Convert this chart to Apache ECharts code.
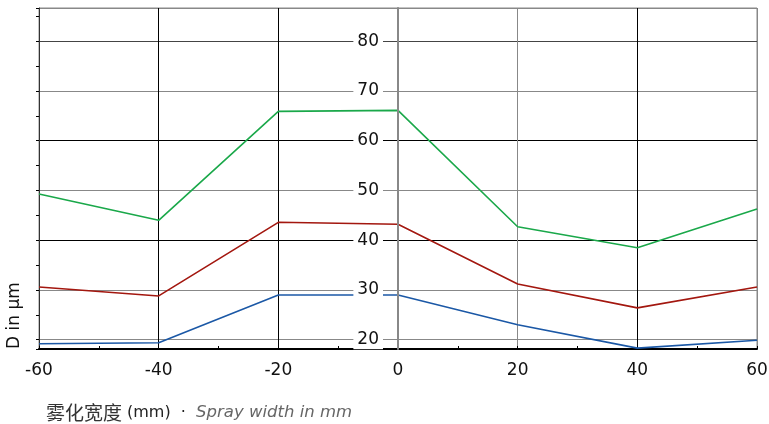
<!DOCTYPE html>
<html>
<head>
<meta charset="utf-8">
<script src="https://cdn.jsdelivr.net/npm/echarts@6/dist/echarts.min.js"></script>
<style>html,body{margin:0;padding:0;background:#fff}#c{width:769px;height:424px}</style>
</head>
<body>
<div id="c"></div>
<script>
// ---- data ----
const xPositions = [-60, -40, -20, 0, 20, 40, 60];       // spray width in mm
const seriesNames = ['D90', 'D50', 'D10'];
const greenValues = [49.3, 44.0, 65.9, 66.1, 42.7, 38.5, 46.3];
const redValues   = [30.6, 28.8, 43.6, 43.2, 31.2, 26.4, 30.6];
const blueValues  = [19.2, 19.4, 29.0, 29.0, 23.0, 18.3, 19.9];
const xAxisTitleCn = '雾化宽度';
const xAxisTitleUnit = '(mm)';
const xAxisTitleEn = 'Spray width in mm';
const yAxisTitle = 'D in µm';
const yMin = 18.13, yMax = 86.69;
const xMin = -60, xMax = 60, xInterval = 20;

const pairs = v => xPositions.map((x, i) => [x, v[i]]);
const FONT = 'DejaVu Sans';
const GRID_LEFT = 39, GRID_RIGHT = 12;
const plotWidth = 769 - GRID_LEFT - GRID_RIGHT;
// centre axis sits where x = 0
const centreOffset = -plotWidth * (0 - xMin) / (xMax - xMin);

const chart = echarts.init(document.getElementById('c'), null, {renderer: 'canvas'});
chart.setOption({
  animation: false,
  backgroundColor: '#fff',
  grid: {left: GRID_LEFT, right: GRID_RIGHT, top: 8, bottom: 75, show: true, borderColor: '#888', borderWidth: 1, outerBoundsMode: 'none'},
  title: {
    left: 41, top: 398,
    text: '{cn|' + xAxisTitleCn + '} {mm|' + xAxisTitleUnit + '}{dot|  ·  }{en|' + xAxisTitleEn + '}',
    textStyle: {
      fontWeight: 'normal',
      rich: {
        cn: {fontFamily: 'Noto Sans CJK SC', fontSize: 19, color: '#333', fontWeight: 'normal'},
        mm: {fontFamily: FONT, fontSize: 16, color: '#222', fontWeight: 'normal'},
        dot: {fontFamily: FONT, fontSize: 16, color: '#222', fontWeight: 'normal'},
        en: {fontFamily: FONT, fontSize: 16.5, color: '#666', fontStyle: 'italic', fontWeight: 'normal'}
      }
    }
  },
  graphic: [{
    type: 'text', x: 23, y: 349, rotation: Math.PI / 2, z: 100,
    style: {text: yAxisTitle, font: '17px "DejaVu Sans"', fill: '#111', align: 'left', verticalAlign: 'bottom'}
  }],
  xAxis: {
    type: 'value', min: xMin, max: xMax, interval: xInterval,
    axisLine: {onZero: false, lineStyle: {color: '#000', width: 2}},
    axisTick: {show: true, inside: true, length: 3, lineStyle: {color: '#000'}},
    minorTick: {show: true, splitNumber: 2, length: 3, lineStyle: {color: '#000'}},
    axisLabel: {fontFamily: FONT, fontSize: 17, color: '#111', margin: 13},
    splitLine: {show: true, lineStyle: {color: ['#888', '#000', '#000', '#888', '#888', '#000', '#888'], width: 1}}
  },
  yAxis: [{
    type: 'value', min: yMin, max: yMax, splitNumber: 7, z: 10, position: 'left', offset: centreOffset,
    axisLine: {show: true, onZero: false, lineStyle: {color: '#888', width: 2}},
    axisTick: {show: false},
    splitLine: {show: false},
    axisLabel: {
      fontFamily: FONT, fontSize: 17, color: '#111', margin: 15,
      backgroundColor: '#fff', padding: [1, 4, 1, 4],
      showMinLabel: false, showMaxLabel: false,
      formatter: v => (Math.abs(v - Math.round(v)) < 1e-6 && Math.round(v) % 10 === 0) ? String(Math.round(v)) : ''
    }
  }, {
    type: 'value', min: yMin, max: yMax, splitNumber: 7, position: 'left', z: 0,
    axisLine: {show: true, onZero: false, lineStyle: {color: '#333', width: 1}},
    axisTick: {show: true, length: 3, lineStyle: {color: '#000'}},
    minorTick: {show: true, splitNumber: 2, length: 3, lineStyle: {color: '#000'}},
    axisLabel: {show: false},
    splitLine: {show: true, lineStyle: {color: ['#000', '#888', '#888', '#000', '#888', '#000', '#888', '#444', '#888'], width: 1}}
  }],
  series: [
    {name: seriesNames[0], type: 'line', yAxisIndex: 1, data: pairs(greenValues), symbol: 'none', lineStyle: {color: '#1aa84a', width: 1.6}, z: 3},
    {name: seriesNames[1], type: 'line', yAxisIndex: 1, data: pairs(redValues), symbol: 'none', lineStyle: {color: '#a3170f', width: 1.6}, z: 3},
    {name: seriesNames[2], type: 'line', yAxisIndex: 1, data: pairs(blueValues), symbol: 'none', lineStyle: {color: '#1b58a6', width: 1.6}, z: 3}
  ]
});
</script>
</body>
</html>
